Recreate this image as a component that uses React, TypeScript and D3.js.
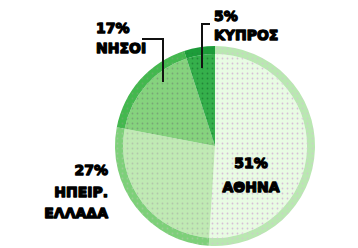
import React from "react";
import * as d3 from "d3";

// regions and their share (%)
const regions = ["ΑΘΗΝΑ", "ΗΠΕΙΡ. ΕΛΛΑΔΑ", "ΝΗΣΙΑ", "ΚΥΠΡΟΣ"];
const shares = [51, 27, 17, 5];
const labelLines = [["ΑΘΗΝΑ"], ["ΗΠΕΙΡ.", "ΕΛΛΑΔΑ"], ["ΝΗΣΟΙ"], ["ΚΥΠΡΟΣ"]];

const fills = ["#e8fbe3", "#c0eab4", "#86d37e", "#35b04b"];
const rims = ["#b9e8b1", "#7dd079", "#43b84e", "#1c9d39"];
const dots = ["#d6bcd6", "#b2c4ab", "#78a476", "#23843a"];

// label placement (annotation layout, not data)
const labelPos = [
  { x: 251, y: 168, anchor: "middle", dy: 24 },
  { x: 108, y: 175, anchor: "end", dy: 21.5 },
  { x: 96, y: 33, anchor: "start", dy: 20 },
  { x: 214, y: 21, anchor: "start", dy: 19 },
];
const leaders = ["", "", "M142,39H163V82", "M210,24H202V68"];

const W = 358;
const H = 248;
const cx = 215;
const cy = 146;
const R = 100;
const rim = 8;

export default function App() {
  const pie = d3
    .pie<number>()
    .sort(null)
    .startAngle(0)
    .endAngle(2 * Math.PI);
  const arcs = pie(shares);
  const inner = d3.arc<d3.PieArcDatum<number>>().innerRadius(0).outerRadius(R - rim);
  const outer = d3.arc<d3.PieArcDatum<number>>().innerRadius(R - rim).outerRadius(R);

  return (
    <svg width={W} height={H} style={{ position: "absolute", left: 0, top: 0 }}>
      <defs>
        {regions.map((r, i) => (
          <pattern key={r} id={"dot" + i} width={5} height={5} patternUnits="userSpaceOnUse">
            <rect width={5} height={5} fill={fills[i]} />
            <circle cx={2.5} cy={2.5} r={0.9} fill={dots[i]} />
          </pattern>
        ))}
        {regions.map((r, i) => (
          <pattern key={r + "r"} id={"rim" + i} width={5} height={5} patternUnits="userSpaceOnUse">
            <rect width={5} height={5} fill={rims[i]} />
            <circle cx={2.5} cy={2.5} r={0.9} fill={dots[i]} opacity={0.6} />
          </pattern>
        ))}
      </defs>
      <g transform={`translate(${cx},${cy})`}>
        {arcs.map((a, i) => (
          <g key={regions[i]}>
            <path d={inner(a) || ""} fill={`url(#dot${i})`} />
            <path d={outer(a) || ""} fill={`url(#rim${i})`} />
          </g>
        ))}
      </g>
      {leaders.map((d, i) =>
        d ? <path key={i} d={d} fill="none" stroke="#111" strokeWidth={2} /> : null
      )}
      <g
        fontFamily="'DejaVu Sans', sans-serif"
        fontWeight="bold"
        fontSize={14}
        fill="#000"
        stroke="#000"
        strokeWidth={1.3}
        strokeLinejoin="round"
      >
        {labelLines.map((lines, i) => {
          const p = labelPos[i];
          return (
            <text key={regions[i]} x={p.x} y={p.y} textAnchor={p.anchor}>
              <tspan x={p.x}>{shares[i]}%</tspan>
              {lines.map((l, j) => (
                <tspan key={l} x={p.x} dy={p.dy}>
                  {l}
                </tspan>
              ))}
            </text>
          );
        })}
      </g>
    </svg>
  );
}
